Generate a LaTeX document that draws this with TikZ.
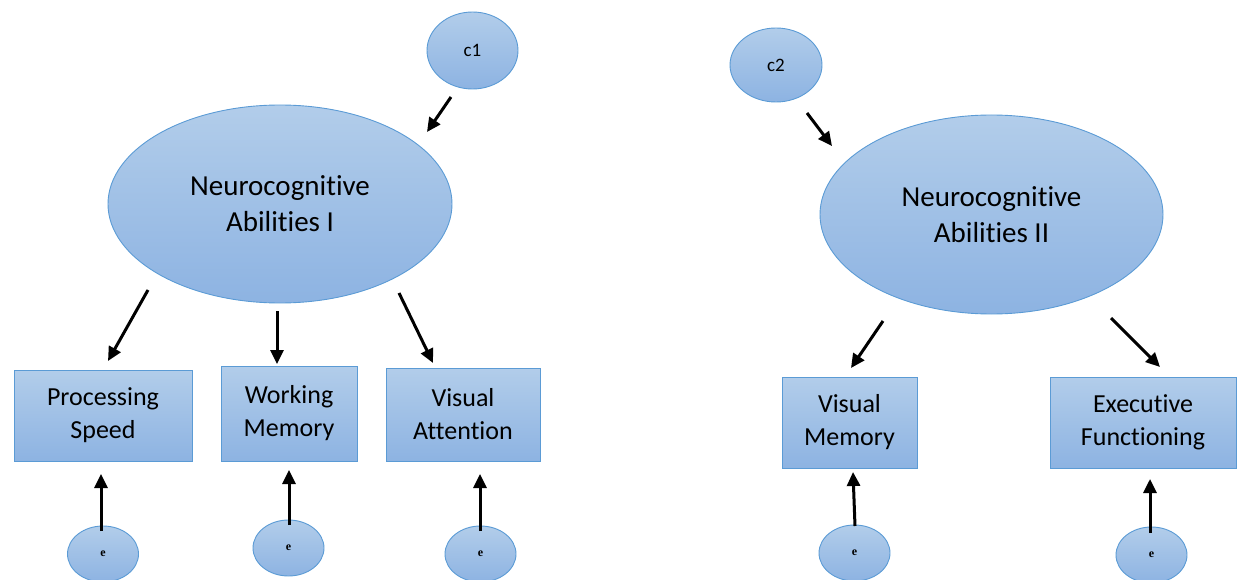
\documentclass[tikz,border=0pt]{standalone}
\usepackage{fontspec}
\setmainfont{Carlito}[Ligatures=NoCommon]
\newfontfamily\eserif{Liberation Serif}
\usetikzlibrary{shapes.geometric,arrows.meta}
\definecolor{topblue}{HTML}{B2CDEA}
\definecolor{botblue}{HTML}{8DB3E2}
\definecolor{edgeblue}{HTML}{5B9BD5}
\tikzset{
  fillbl/.style={draw=edgeblue, line width=0.9pt, top color=topblue, bottom color=botblue},
  latent/.style={fillbl, ellipse, inner sep=0pt, align=center, font=\fontsize{29}{36}\selectfont},
  small/.style={fillbl, ellipse, inner sep=0pt, font=\fontsize{19}{22}\selectfont},
  errnode/.style={fillbl, ellipse, inner sep=0pt, minimum width=71pt, minimum height=56pt, font=\eserif\bfseries\fontsize{12}{13}\selectfont},
  obs/.style={fillbl, rectangle, inner sep=0pt, align=center, minimum height=91pt, font=\fontsize{26}{33}\selectfont},
  arr/.style={line width=3pt, -{Triangle[length=14pt,width=13pt]}}
}
\begin{document}
\begin{tikzpicture}[x=1pt,y=-1pt]
\useasboundingbox (0,0) rectangle (1237,580);
% left model
\node[small, minimum width=91pt, minimum height=77pt] (c1) at (472.5,50.5) {c1};
\node[latent, minimum width=344pt, minimum height=198pt] (A) at (280,204) {Neurocognitive\\Abilities I};
\node[obs, minimum width=178pt] (PS) at (103,415.5) {Processing\\Speed};
\node[obs, minimum width=136pt, minimum height=95pt] (WM) at (289,413.5) {Working\\Memory};
\node[obs, minimum width=154pt, minimum height=93pt] (VA) at (463,414.5) {Visual\\Attention};
\node[errnode] (e1) at (103,554) {e};
\node[errnode] (e2) at (288.5,548) {e};
\node[errnode] (e3) at (480.5,554) {e};
% right model
\node[small, minimum width=92pt, minimum height=74pt] (c2) at (776,65) {c2};
\node[latent, minimum width=343pt, minimum height=199pt] (B) at (991.5,214.5) {Neurocognitive\\Abilities II};
\node[obs, minimum width=135pt] (VM) at (849.5,422.5) {Visual\\Memory};
\node[obs, minimum width=186pt] (EF) at (1143,422.5) {Executive\\Functioning};
\node[errnode] (e4) at (854.5,553) {e};
\node[errnode] (e5) at (1151.5,555) {e};
% connector end points
\coordinate (c1s) at (451,97);   \coordinate (c1t) at (427,132);
\coordinate (A1s) at (148,290);  \coordinate (A1t) at (108,361);
\coordinate (A2s) at (277,311);  \coordinate (A2t) at (277,364);
\coordinate (A3s) at (399,293);  \coordinate (A3t) at (433,363);
\coordinate (c2s) at (807,113);  \coordinate (c2t) at (832,146);
\coordinate (B1s) at (883,321);  \coordinate (B1t) at (851,368);
\coordinate (B2s) at (1111,318); \coordinate (B2t) at (1160,367);
\coordinate (e1s) at (101,531);  \coordinate (e1t) at (101,474);
\coordinate (e2s) at (289,525);  \coordinate (e2t) at (289,470);
\coordinate (e3s) at (480,531);  \coordinate (e3t) at (480,474);
\coordinate (e4s) at (855,526);  \coordinate (e4t) at (853,472);
\coordinate (e5s) at (1150,533); \coordinate (e5t) at (1150,479);
% connectors
\foreach \a in {c1,A1,A2,A3,c2,B1,B2,e1,e2,e3,e4,e5}
  \draw[arr] (\a s) -- (\a t);
\end{tikzpicture}
\end{document}
